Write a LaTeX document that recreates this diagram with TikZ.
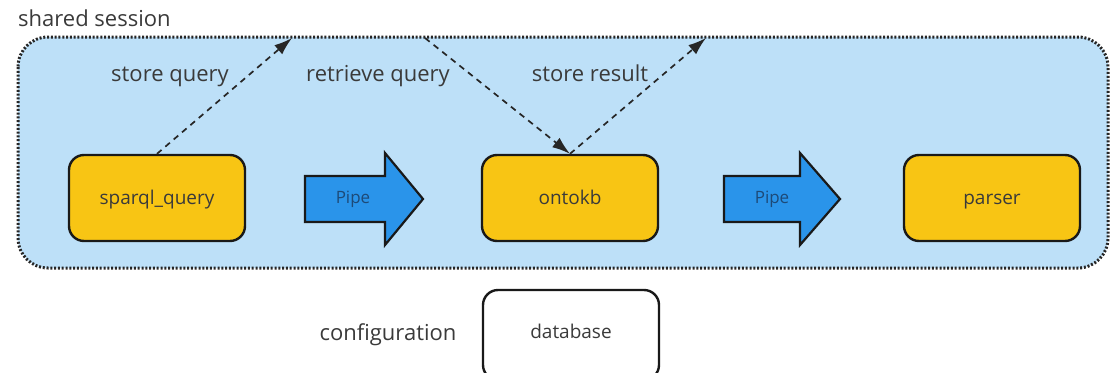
\documentclass[tikz,border=0pt]{standalone}
\usepackage{fontspec}
\setmainfont{Open Sans}
\usetikzlibrary{arrows.meta}
\definecolor{sessionfill}{HTML}{BDE0F8}
\definecolor{stepfill}{HTML}{F8C514}
\definecolor{pipefill}{HTML}{2A94EA}
\definecolor{pipetext}{HTML}{1D4A78}
\definecolor{labeltext}{HTML}{3A3A3A}
\tikzset{
  session/.style={draw=black!85, fill=sessionfill, line width=3pt,
    dash pattern=on 2pt off 1.8pt, rounded corners=30pt},
  stepbox/.style={draw=black!90, fill=stepfill, line width=2.4pt,
    rounded corners=15pt, minimum width=176pt, minimum height=86pt,
    inner sep=0pt, text height=14pt, text depth=2pt,
    text=labeltext, font=\fontsize{19}{22}\selectfont},
  cfgbox/.style={stepbox, fill=white, text height=10pt, text depth=4pt},
  pipebody/.style={draw=black!90, fill=pipefill, line width=2.2pt, line join=miter},
  pipelabel/.style={text=pipetext, font=\fontsize{17}{19}\selectfont,
    inner sep=0pt, anchor=base},
  caption/.style={text=labeltext, font=\fontsize{22}{25}\selectfont,
    inner sep=0pt, anchor=base},
  flow/.style={draw=black!85, line width=1.7pt, dash pattern=on 6pt off 5pt,
    -{Latex[length=18pt,width=12pt]}},
}
\begin{document}
\begin{tikzpicture}[x=1pt,y=-1pt]
\useasboundingbox (0,0) rectangle (1110,372);

% shared session container
\node[caption, anchor=base west] (title) at (18,27) {shared session};
\draw[session] (18,37) rectangle (1108,268);
\coordinate (qslot) at (292,38);
\coordinate (rslot) at (425,38);
\coordinate (sslot) at (706,38);

% processing steps
\node[stepbox] (sparql) at (157,198) {sparql\_query};
\node[stepbox] (onto) at (570,198) {ontokb};
\node[stepbox] (parser) at (992,198) {parser};

% pipes between steps
\draw[pipebody] (305,176) -- (385,176) -- (385,153) -- (423,199) -- (385,245)
  -- (385,222) -- (305,222) -- cycle;
\node[pipelabel] (pipeA) at (353,203) {Pipe};
\draw[pipebody] (724,176) -- (800,176) -- (800,153) -- (840,199) -- (800,245)
  -- (800,222) -- (724,222) -- cycle;
\node[pipelabel] (pipeB) at (772,203) {Pipe};

% session traffic
\draw[flow] (sparql.north) -- (qslot);
\draw[flow] (rslot) -- (onto.north);
\draw[flow] (onto.north) -- (sslot);
\node[caption] (lstore) at (170,81) {store query};
\node[caption] (lretr) at (378,81) {retrieve query};
\node[caption] (lres) at (590,81) {store result};

% configuration
\node[cfgbox, minimum height=90pt] (db) at (571,335) {database};
\node[caption] (cfg) at (388,340) {configuration};
\end{tikzpicture}
\end{document}
